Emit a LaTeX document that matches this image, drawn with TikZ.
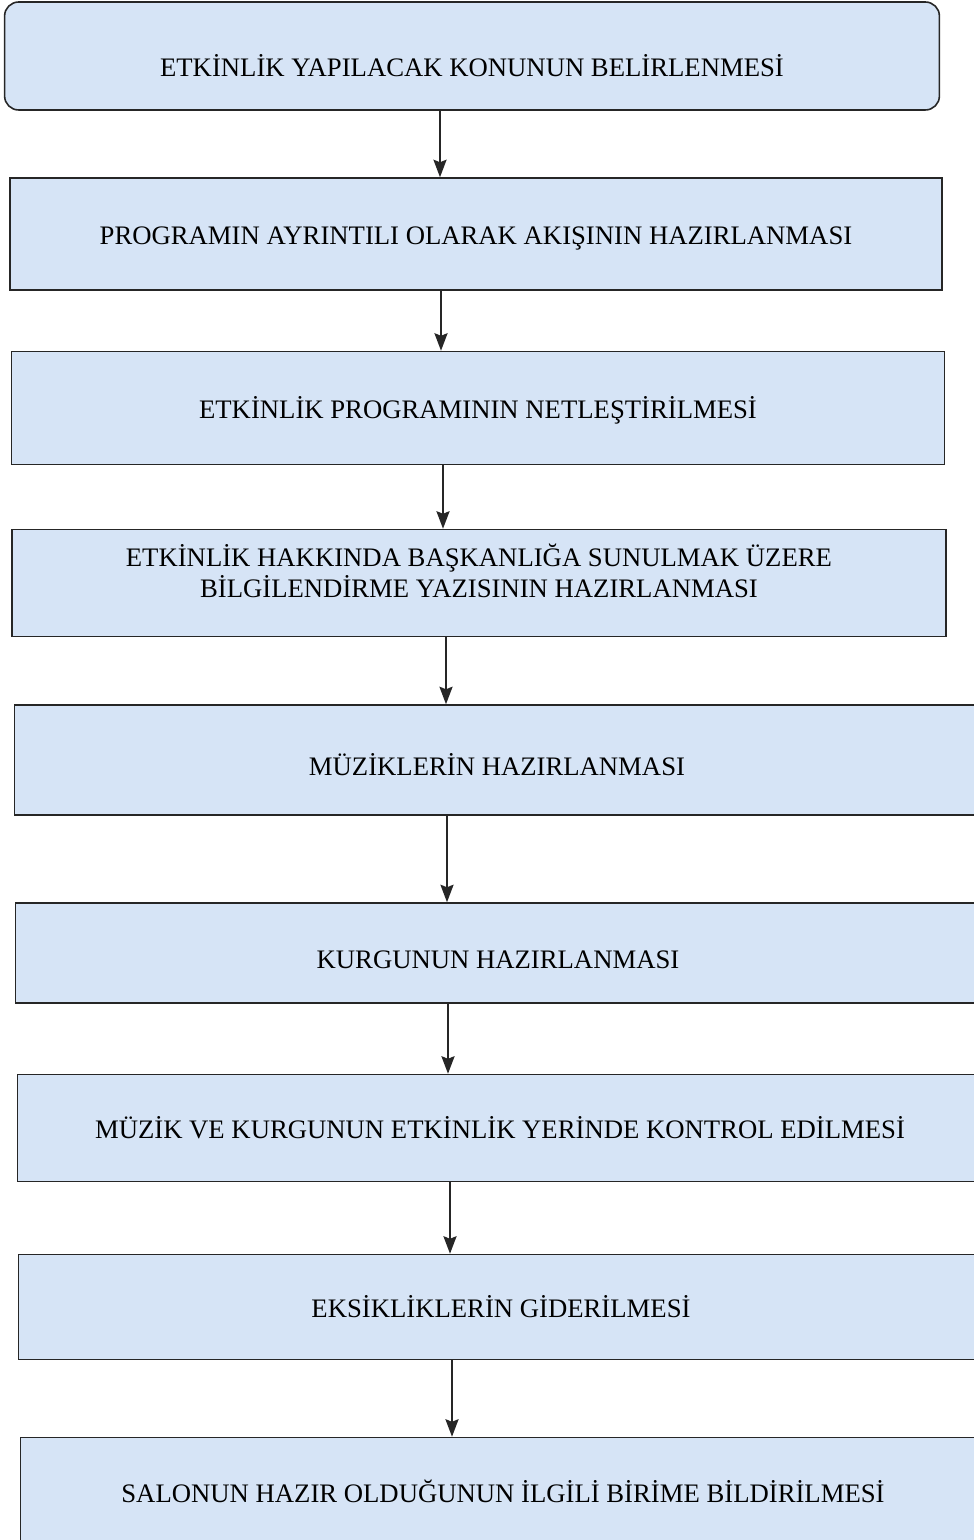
\documentclass[tikz,border=0pt]{standalone}
\usepackage{fontspec}
\setmainfont{Liberation Serif}
\usetikzlibrary{arrows.meta}

\definecolor{stepblue}{RGB}{214,228,246}

\tikzset{
  stepbox/.style={draw=black!85,line width=0.9pt,fill=stepblue,align=center,
    inner sep=0pt,font=\fontsize{15.2}{18}\selectfont},
  flow/.style={draw=black!85,line width=0.9pt,-{Stealth[length=10pt,width=7.5pt,inset=1.5pt]}}
}

\begin{document}
\begin{tikzpicture}[x=0.02cm,y=-0.02cm]

\useasboundingbox (0,0) rectangle (973,1540);

% the steps, top to bottom
\node[stepbox,rounded corners=8pt,minimum width=18.7cm,minimum height=2.16cm,text height=24pt] (b1) at (472,56) {ETKİNLİK YAPILACAK KONUNUN BELİRLENMESİ};
\node[stepbox,minimum width=18.64cm,minimum height=2.24cm,text height=15pt] (b2) at (476,234) {PROGRAMIN AYRINTILI OLARAK AKIŞININ HAZIRLANMASI};
\node[stepbox,minimum width=18.66cm,minimum height=2.26cm,text height=15pt] (b3) at (478,408) {ETKİNLİK PROGRAMININ NETLEŞTİRİLMESİ};
\node[stepbox,minimum width=18.68cm,minimum height=2.14cm,text depth=14pt] (b4) at (479,583) {ETKİNLİK HAKKINDA BAŞKANLIĞA SUNULMAK ÜZERE\\BİLGİLENDİRME YAZISININ HAZIRLANMASI};
\node[stepbox,minimum width=19.3cm,minimum height=2.2cm,text height=18pt] (b5) at (497,760) {MÜZİKLERİN HAZIRLANMASI};
\node[stepbox,minimum width=19.3cm,minimum height=2.0cm,text height=18pt] (b6) at (498,953) {KURGUNUN HAZIRLANMASI};
\node[stepbox,minimum width=19.3cm,minimum height=2.14cm] (b7) at (500,1128) {MÜZİK VE KURGUNUN ETKİNLİK YERİNDE KONTROL EDİLMESİ};
\node[stepbox,minimum width=19.3cm,minimum height=2.1cm] (b8) at (501,1307) {EKSİKLİKLERİN GİDERİLMESİ};
\node[stepbox,minimum width=19.3cm,minimum height=2.14cm] (b9) at (503,1491) {SALONUN HAZIR OLDUĞUNUN İLGİLİ BİRİME BİLDİRİLMESİ};

% arrows between the steps
\foreach \a/\b/\x in {b1/b2/440,b2/b3/441,b3/b4/443,b4/b5/446,b5/b6/447,b6/b7/448,b7/b8/450,b8/b9/452}
  \draw[flow] (\x,0 |- \a.south) -- (\x,0 |- \b.north);

\end{tikzpicture}
\end{document}
